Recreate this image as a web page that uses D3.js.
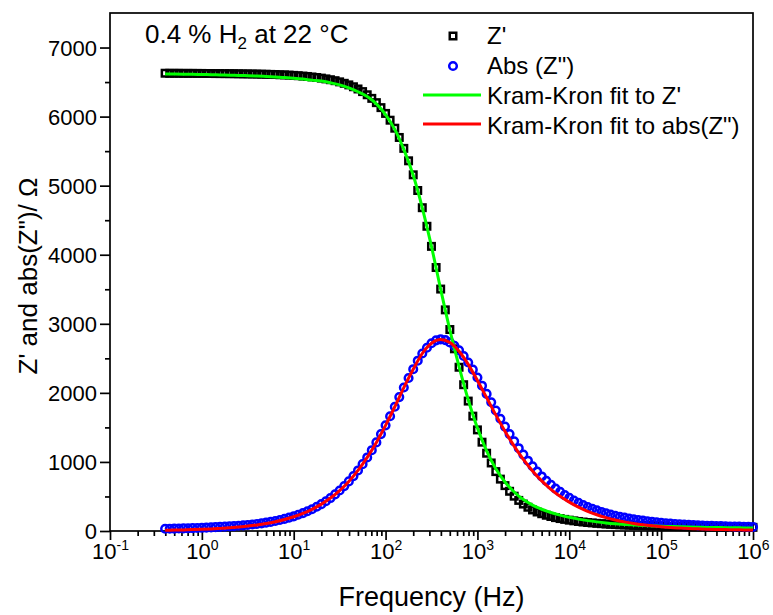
<!DOCTYPE html>
<html>
<head>
<meta charset="utf-8">
<script src="https://cdn.jsdelivr.net/npm/d3@7"></script>
<style>
  body { margin: 0; background: #fff; }
  text { font-family: "Liberation Sans", Arial, Helvetica, sans-serif; fill: #000; }
</style>
</head>
<body>
<svg id="chart" width="773" height="615"></svg>
<script>
// Measurement frequencies (Hz), 20 points per decade
const freq = [
  0.398,0.447,0.501,0.562,0.631,0.708,0.794,0.891,
  1,1.12,1.26,1.41,1.58,1.78,2,2.24,2.51,2.82,3.16,3.55,3.98,4.47,5.01,5.62,6.31,7.08,7.94,8.91,
  10,11.2,12.6,14.1,15.8,17.8,20,22.4,25.1,28.2,31.6,35.5,39.8,44.7,50.1,56.2,63.1,70.8,79.4,89.1,
  100,112,126,141,158,178,200,224,251,282,316,355,398,447,501,562,631,708,794,891,
  1000,1122,1259,1413,1585,1778,1995,2239,2512,2818,3162,3548,3981,4467,5012,5623,6310,7079,7943,8913,
  10000,11220,12590,14130,15850,17780,19950,22390,25120,28180,31620,35480,39810,44670,50120,56230,63100,70790,79430,89130,
  100000,112200,125900,141300,158500,177800,199500,223900,251200,281800,316200,354800,398100,446700,501200,562300,631000,707900,794300,891300,
  1000000
];

// Z' (ohm), measured
const zReal = [
  6628,6627,6627,6627,6626,6626,6626,6625,6625,6624,6624,6623,6623,6622,6622,6621,6620,6619,6618,6617,
  6616,6614,6613,6611,6609,6606,6604,6601,6597,6592,6587,6581,6574,6566,6557,6546,6534,6520,6503,6482,
  6459,6432,6400,6362,6316,6264,6202,6130,6046,5948,5832,5698,5540,5360,5157,4930,4681,4412,4121,3815,
  3503,3202,2917,2638,2371,2118,1881,1663,1464,1286,1126,985,860,751,657,575,504,443,390,344,
  305,275,250,228,210,194,180,168,157,147,138,130,123,117,111,106,101,97,93,90,
  87,84,81,79,77,75,73,71,69,68,66,65,64,63,62,61,60,59,58,58,
  57,56,56,55,55,54,54,53,53
];

// |Z''| (ohm), measured
const zImagAbs = [
  32,33,35,36,38,39,42,44,46,49,52,56,60,63,67,71,76,81,87,94,
  102,111,121,132,145,159,175,193,212,235,259,286,315,351,389,430,477,530,586,650,
  718,795,877,968,1065,1170,1283,1403,1530,1662,1799,1939,2077,2215,2343,2466,2570,2653,2718,2760,
  2775,2763,2731,2681,2615,2534,2439,2336,2222,2104,1985,1864,1744,1626,1512,1403,1298,1199,1106,1018,
  937,860,790,726,669,614,566,520,480,441,409,377,347,321,298,276,257,239,221,206,
  194,180,170,159,150,140,133,125,118,111,107,101,97,93,89,86,82,79,77,74,
  72,70,68,66,64,63,62,60,59
];

// Kramers-Kronig fit, evaluated at every second measurement frequency
const fitReal = [
  6618,6616,6614,6612,6610,6607,6604,6600,6596,6592,6587,6581,6574,6565,6555,6543,6528,6515,6490,6460,
  6415,6360,6290,6185,6030,5815,5525,5150,4680,4120,3500,2910,2380,1900,1490,1160,900,710,565,455,
  375,315,268,230,198,172,150,132,117,105,95,87,80,74,69,65,61,58,55,52,
  50,48,46,45,44
];
const fitImagAbs = [
  10,13,16,20,24,30,38,47,58,71,88,109,135,167,206,255,313,389,477,586,
  718,877,1065,1283,1530,1799,2077,2343,2570,2718,2773,2728,2602,2412,2180,1932,1681,1445,1228,1036,
  869,725,604,502,418,345,285,235,194,160,132,109,90,75,62,51,43,36,31,26,
  22,20,18,16,15
];

const yMajorTicks = [0,1000,2000,3000,4000,5000,6000,7000];
const yMinorTicks = [500,1500,2500,3500,4500,5500,6500];
const xDecadeExponents = [-1,0,1,2,3,4,5,6];

const legendLabels = ["Z'", 'Abs (Z")', "Kram-Kron fit to Z'", 'Kram-Kron fit to abs(Z")'];
const seriesColors = { real: "#000000", imag: "#0000ff", fitReal: "#00ff00", fitImag: "#ff0000" };

const svg = d3.select("#chart");
const plot = { left: 110, right: 753, top: 13, bottom: 531 };

const x = d3.scaleLog().domain([0.1, 1e6]).range([plot.left, plot.right]);
const y = d3.scaleLinear().domain([0, 7500]).range([plot.bottom, plot.top]);

const fitFreq = freq.filter((_, i) => i % 2 === 0);
const measured = freq.map((f, i) => ({ f, re: zReal[i], im: zImagAbs[i] }));
const fitted = fitFreq.map((f, i) => ({ f, re: fitReal[i], im: fitImagAbs[i] }));

// ---- axes ----
const xMinor = [];
xDecadeExponents.slice(0, -1).forEach(e => {
  for (let m = 2; m <= 9; m++) xMinor.push(m * Math.pow(10, e));
});
const xMajor = xDecadeExponents.map(e => Math.pow(10, e));

const axisStroke = 1.7;
const tickFont = 22;

svg.append("g")
  .attr("transform", `translate(0,${plot.bottom})`)
  .call(d3.axisBottom(x).tickValues(xMinor).tickSize(5).tickSizeOuter(0).tickFormat(""))
  .call(g => g.select(".domain").remove())
  .call(g => g.selectAll("line").attr("stroke", "#000").attr("stroke-width", axisStroke));

const xAxisG = svg.append("g")
  .attr("transform", `translate(0,${plot.bottom})`)
  .call(d3.axisBottom(x).tickValues(xMajor).tickSize(9).tickSizeOuter(0).tickFormat(""));
xAxisG.select(".domain").remove();
xAxisG.selectAll("line").attr("stroke", "#000").attr("stroke-width", axisStroke);
xAxisG.selectAll(".tick").each(function(d) {
  const e = Math.round(Math.log10(d));
  const t = d3.select(this).select("text")
    .attr("y", 28).attr("dy", null).attr("font-family", null)
    .attr("font-size", tickFont).attr("text-anchor", "middle").text("10");
  t.append("tspan").attr("dy", -9).attr("font-size", 14).text(e);
});

svg.append("g")
  .attr("transform", `translate(${plot.left},0)`)
  .call(d3.axisLeft(y).tickValues(yMinorTicks).tickSize(5).tickSizeOuter(0).tickFormat(""))
  .call(g => g.select(".domain").remove())
  .call(g => g.selectAll("line").attr("stroke", "#000").attr("stroke-width", axisStroke));

const yAxisG = svg.append("g")
  .attr("transform", `translate(${plot.left},0)`)
  .call(d3.axisLeft(y).tickValues(yMajorTicks).tickSize(10).tickSizeOuter(0).tickFormat(d3.format("d")));
yAxisG.select(".domain").remove();
yAxisG.selectAll("line").attr("stroke", "#000").attr("stroke-width", axisStroke);
yAxisG.selectAll("text").attr("font-size", tickFont).attr("x", -13).attr("dy", "0.36em")
  .attr("font-family", null);

// frame
svg.append("rect")
  .attr("x", plot.left).attr("y", plot.top)
  .attr("width", plot.right - plot.left).attr("height", plot.bottom - plot.top)
  .attr("fill", "none").attr("stroke", "#000").attr("stroke-width", axisStroke);

// ---- data ----
const sq = 6.5;
const cr = 3.8;
const markerStroke = 2.5;
svg.append("g").selectAll("rect").data(measured).join("rect")
  .attr("x", d => x(d.f) - sq / 2).attr("y", d => y(d.re) - sq / 2)
  .attr("width", sq).attr("height", sq)
  .attr("fill", "none").attr("stroke", seriesColors.real).attr("stroke-width", markerStroke);

svg.append("g").selectAll("circle").data(measured).join("circle")
  .attr("cx", d => x(d.f)).attr("cy", d => y(d.im)).attr("r", cr)
  .attr("fill", "none").attr("stroke", seriesColors.imag).attr("stroke-width", markerStroke);

const lineRe = d3.line().x(d => x(d.f)).y(d => y(d.re)).curve(d3.curveMonotoneX);
const lineIm = d3.line().x(d => x(d.f)).y(d => y(d.im)).curve(d3.curveMonotoneX);

svg.append("path").datum(fitted).attr("d", lineRe)
  .attr("fill", "none").attr("stroke", seriesColors.fitReal).attr("stroke-width", 3);
svg.append("path").datum(fitted).attr("d", lineIm)
  .attr("fill", "none").attr("stroke", seriesColors.fitImag).attr("stroke-width", 3);

// ---- annotation ----
const note = svg.append("text").attr("x", 145).attr("y", 43).attr("font-size", 26);
note.append("tspan").text("0.4 % H");
note.append("tspan").attr("font-size", 17).attr("dy", 6).text("2");
note.append("tspan").attr("dy", -6).text(" at 22 °C");

// ---- legend ----
const lg = svg.append("g");
const legendY = [36, 66, 95, 124];
const baseY = [44, 74, 104, 134];
lg.append("rect").attr("x", 453 - sq / 2).attr("y", legendY[0] - sq / 2).attr("width", sq).attr("height", sq)
  .attr("fill", "none").attr("stroke", seriesColors.real).attr("stroke-width", markerStroke);
lg.append("circle").attr("cx", 453).attr("cy", legendY[1]).attr("r", cr)
  .attr("fill", "none").attr("stroke", seriesColors.imag).attr("stroke-width", markerStroke);
lg.append("line").attr("x1", 423).attr("x2", 481).attr("y1", legendY[2]).attr("y2", legendY[2])
  .attr("stroke", seriesColors.fitReal).attr("stroke-width", 3);
lg.append("line").attr("x1", 423).attr("x2", 481).attr("y1", legendY[3]).attr("y2", legendY[3])
  .attr("stroke", seriesColors.fitImag).attr("stroke-width", 3);
legendLabels.forEach((t, i) => {
  lg.append("text").attr("x", 487).attr("y", baseY[i]).attr("font-size", 24).text(t);
});

// ---- axis titles ----
svg.append("text").attr("x", (plot.left + plot.right) / 2).attr("y", 606)
  .attr("text-anchor", "middle").attr("font-size", 27).text("Frequency (Hz)");
svg.append("text")
  .attr("transform", `translate(37,${(plot.top + plot.bottom) / 2 + 4}) rotate(-90)`)
  .attr("text-anchor", "middle").attr("font-size", 26).text('Z\' and abs(Z")/ Ω');
</script>
</body>
</html>
